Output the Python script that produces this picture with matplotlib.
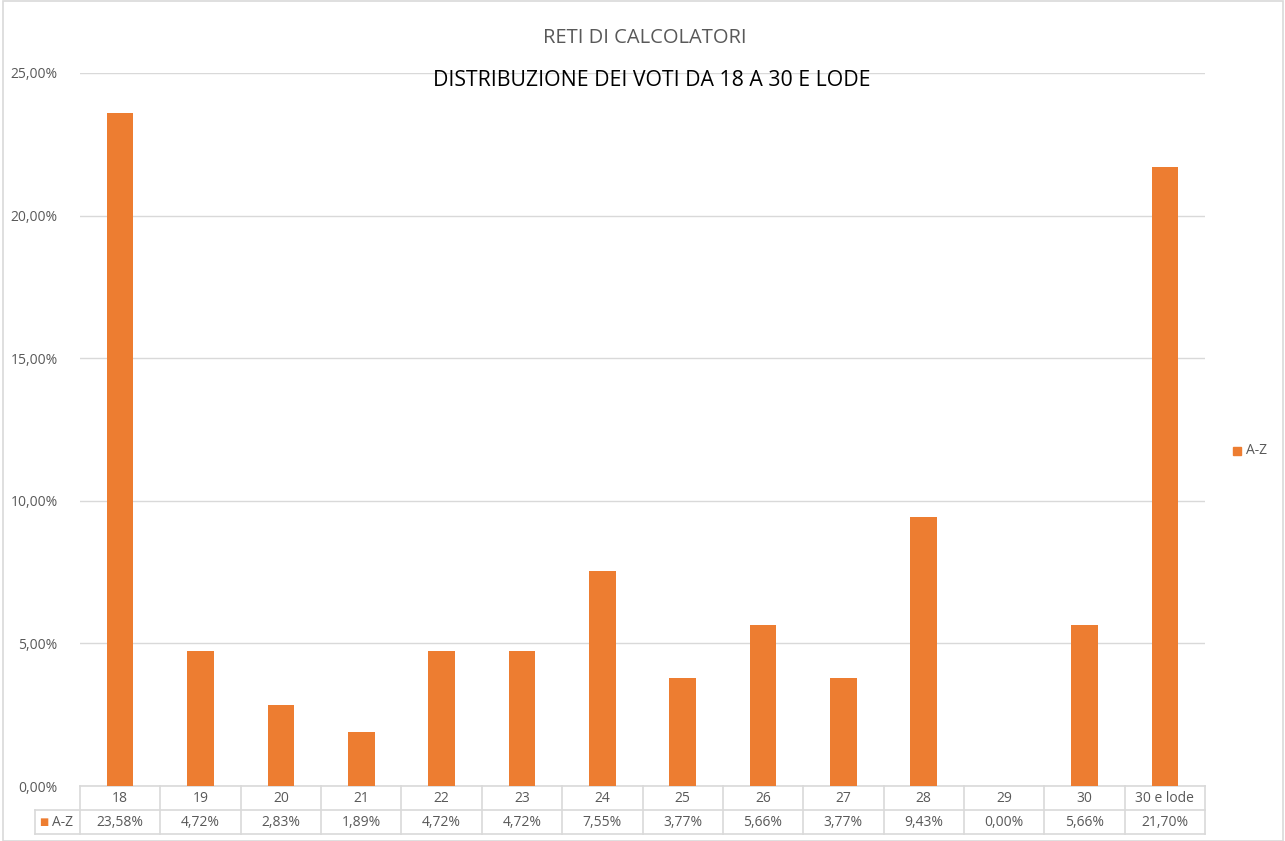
import matplotlib.pyplot as plt
from matplotlib.transforms import blended_transform_factory
from matplotlib.patches import Rectangle
import numpy as np

# Data
categories = ['18', '19', '20', '21', '22', '23', '24', '25', '26', '27', '28', '29', '30', '30 e lode']
values = [23.58, 4.72, 2.83, 1.89, 4.72, 4.72, 7.55, 3.77, 5.66, 3.77, 9.43, 0.00, 5.66, 21.70]
series_name = 'A-Z'
yticks = [0, 5, 10, 15, 20, 25]

ORANGE = '#ED7D31'
GRID = '#D9D9D9'
TXT = '#595959'

plt.rcParams['font.family'] = ['Open Sans', 'DejaVu Sans']

W, H = 1285, 841
fig = plt.figure(figsize=(W / 100, H / 100), dpi=100)
ax = fig.add_axes([80 / W, (H - 786) / H, (1205 - 80) / W, (786 - 73) / H])

x = np.arange(len(categories))
ax.bar(x, values, width=0.33, color=ORANGE, zorder=3)

ax.set_xlim(-0.5, len(categories) - 0.5)
ax.set_ylim(0, 25)
ax.set_yticks(yticks)
ax.set_yticklabels([f'{v:.2f}%'.replace('.', ',') for v in yticks], color=TXT, fontsize=10)
ax.tick_params(axis='y', length=0, pad=16)
ax.set_xticks([])
for s in ax.spines.values():
    s.set_visible(False)
ax.grid(axis='y', color=GRID, linewidth=1, zorder=0)

# Data table below the axes
tr = blended_transform_factory(ax.transData, ax.transAxes)
row_h = 24 / (786 - 73)
y0 = 0
y1 = -row_h
y2 = -2 * row_h
n = len(categories)
col_px = (1205 - 80) / n
lkw = dict(color=GRID, linewidth=1.2, clip_on=False, transform=tr)
ax.plot([-0.5, n - 0.5], [y0, y0], **lkw)
ax_left_ext = -0.5 - 45 / col_px
ax.plot([ax_left_ext, n - 0.5], [y1, y1], **lkw)
ax.plot([ax_left_ext, n - 0.5], [y2, y2], **lkw)
ax.plot([ax_left_ext, ax_left_ext], [y1, y2], **lkw)
for b in np.arange(-0.5, n, 1.0):
    ax.plot([b, b], [y0, y2], **lkw)
for i, (c, v) in enumerate(zip(categories, values)):
    ax.text(i, (y0 + y1) / 2, c, transform=tr, ha='center', va='center',
            color=TXT, fontsize=10, clip_on=False)
    ax.text(i, (y1 + y2) / 2, f'{v:.2f}%'.replace('.', ','), transform=tr,
            ha='center', va='center', color=TXT, fontsize=10, clip_on=False)
# legend key in table
ax.text(ax_left_ext + 4 / col_px, (y1 + y2) / 2, '\u25A0', transform=tr, ha='left', va='center',
        color=ORANGE, fontsize=7, clip_on=False)
ax.text(ax_left_ext + 17 / col_px, (y1 + y2) / 2, series_name, transform=tr, ha='left', va='center',
        color=TXT, fontsize=10, clip_on=False)

# Titles
fig.text(645 / W, 1 - 38 / H, 'RETI DI CALCOLATORI', ha='center', va='center',
         color=TXT, fontsize=14.5)
fig.text(652 / W, 1 - 81 / H, 'DISTRIBUZIONE DEI VOTI DA 18 A 30 E LODE', ha='center',
         va='center', color='black', fontsize=15.3)

# Legend on the right
fig.patches.append(Rectangle((1233 / W, 1 - 455 / H), 8 / W, 8 / H, color=ORANGE,
                             transform=fig.transFigure, figure=fig))
fig.text(1246 / W, 1 - 451 / H, series_name, ha='left', va='center', color=TXT, fontsize=10)

# Chart border
fig.patches.append(Rectangle((3 / W, 0), (1283 - 3) / W, 1 - 1 / H, fill=False,
                             edgecolor=GRID, linewidth=1.2,
                             transform=fig.transFigure, figure=fig))

fig.savefig('out.png', dpi=100, facecolor='white')
